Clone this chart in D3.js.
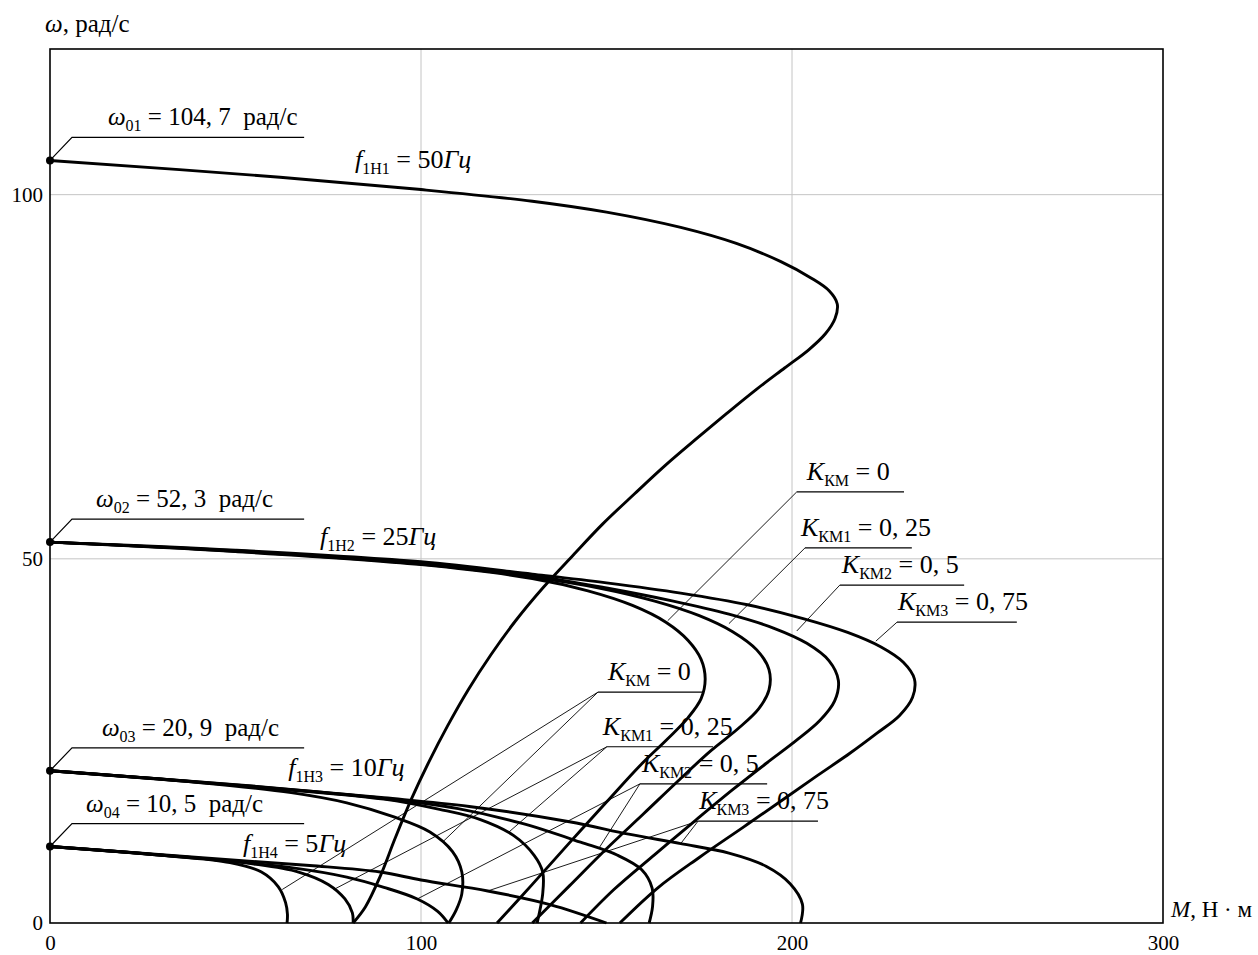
<!DOCTYPE html>
<html>
<head>
<meta charset="utf-8">
<script src="https://cdn.jsdelivr.net/npm/d3@7"></script>
<style>
body { margin: 0; background: #fff; }
text { font-family: "Liberation Serif", "Times New Roman", serif; fill: #000; white-space: pre; }
</style>
</head>
<body>
<script>
var WIDTH = 1258;
var HEIGHT = 955;
var LEFT = 50, RIGHT = 1163, TOP = 49, BOTTOM = 923;

// axis ticks
var xTicks = [0, 100, 200, 300];
var yTicks = [0, 50, 100];
var xGrid = [100, 200];
var yGrid = [50, 100];

// no-load speeds, rad/s
var omega0 = [104.7, 52.3, 20.9, 10.5];
var omega0Text = ["104, 7", "52, 3", "20, 9", "10, 5"];
var freqText = ["50", "25", "10", "5"];
var kText = ["0", "0, 25", "0, 5", "0, 75"];

// M (N*m), omega (rad/s)
var f50 = [[0,104.7],[62,102.4],[100,100.7],[130,99.1],[150,97.6],[170,95.5],[185,93.3],[197,90.8],[205,88.6],[210,86.8],[212.2,85],[211.6,83],[209,80.9],[204.5,78.7],[198,76.2],[190.5,73.3],[182.5,70],[174.5,66.6],[166,62.9],[157.5,58.9],[149,54.8],[141,50.5],[133,46.1],[125.5,41.5],[118.8,36.8],[112.7,32],[107.2,27.1],[102.1,22.1],[97.4,17],[93,11.6],[89,6.4],[85,2.2],[81.7,0]];

var f25k0 = [[0,52.3],[50,51.0],[100,49.2],[130,47.3],[145,45.6],[157,43.6],[166,41.3],[172,38.8],[175.5,36.2],[176.6,33.5],[175.5,30.8],[172,28.2],[166.5,25.3],[159,21.6],[150,16.6],[140,11],[130,5.3],[120.5,0]];
var f25k1 = [[0,52.3],[50,51.05],[100,49.3],[130,47.5],[148,46.0],[163,44.2],[175,42.2],[184,40],[190.5,37.5],[193.8,34.8],[193.8,32],[191,29.4],[185.5,26.7],[178,23.6],[169.5,19.6],[160,15],[150,10.2],[140,5.1],[130,0]];
var f25k2 = [[0,52.3],[50,51.1],[100,49.4],[130,47.7],[150,46.0],[168,44.2],[183,42.4],[195,40.5],[204,38.4],[210,36],[212.5,33.3],[211.5,30.5],[207.5,27.8],[201,25],[193,21.9],[184,18.3],[174,14.1],[163,9.4],[152,4.6],[143,0]];
var f25k3 = [[0,52.3],[50,51.2],[100,49.6],[130,47.9],[150,46.7],[170,45.3],[188,43.7],[203,41.8],[215,39.9],[224,37.9],[230,35.8],[233,33.5],[232.5,31],[229,28.5],[223,26.1],[215.6,23.3],[207,20.3],[198,17.1],[187,13.2],[175,9],[164,4.9],[153.6,0]];

var f10k0 = [[0,20.9],[40,19.3],[65,17.9],[80,16.5],[92.5,14.6],[102.4,12.5],[108.5,9.8],[111,7],[111,4],[109.5,1.8],[107.5,0]];
var f10k1 = [[0,20.9],[50,18.9],[90,17.0],[105,15.6],[116,14.2],[125,12],[130.5,9.3],[132.8,7],[132.8,4],[131.3,0]];
var f10k2 = [[0,20.9],[50,18.95],[90,17.1],[110,15.7],[127,13.7],[143,11.1],[153,9.3],[159.5,7.3],[162.3,4.8],[162.4,2.2],[161.5,0]];
var f10k3 = [[0,20.9],[50,19.0],[90,17.2],[113,16.0],[140,13.9],[156,12.2],[170,10.9],[183,9.6],[193,7.8],[199.5,5.4],[202.8,2.6],[202.3,0]];

var f5k0 = [[0,10.5],[30,9.3],[48.5,8.3],[57,7.0],[61.5,5],[63.5,2.8],[64,1.2],[63.9,0]];
var f5k1 = [[0,10.5],[35,9.1],[55,8.1],[67,7.0],[75,5.3],[79.5,3.3],[81.5,1.4],[81.7,0]];
var f5k2 = [[0,10.5],[40,8.9],[65,7.6],[80,6.3],[90,4.9],[99,3.3],[104.5,1.6],[107.3,0]];
var f5k3 = [[0,10.5],[40,9.0],[70,7.9],[89,7.0],[100,5.9],[118,4.4],[135,2.5],[150,0]];

var allCurves = [f50, f25k0, f25k1, f25k2, f25k3, f10k0, f10k1, f10k2, f10k3, f5k0, f5k1, f5k2, f5k3];

// annotation anchors (data units)
var fLabelPos = [[82.2,103.6],[72.8,51.9],[64.2,20.2],[52,9.75]];
var omegaTextM = [15.6, 12.4, 14, 9.7];
var kTextDx = [10, -4, 2, 1];
var upperK = [
  {start: [201.3,59.2], end: 230.2, targets: [[166.5,41.5]]},
  {start: [203.5,51.5], end: 232.3, targets: [[183,41.1]]},
  {start: [212.9,46.4], end: 246.4, targets: [[201.3,40.1]]},
  {start: [228.3,41.3], end: 260.6, targets: [[222.6,38.7]]}
];
var lowerK = [
  {start: [147.7,31.7], end: 176, targets: [[62.6,4.6],[106,11.2]]},
  {start: [150.1,24.2], end: 178.7, targets: [[76.5,4.6],[123.5,12.4]]},
  {start: [159,19.1], end: 193.3, targets: [[99,3.3],[148,10.3]]},
  {start: [174.7,14], end: 207, targets: [[118,4.4],[170,10.9]]}
];

var xScale = d3.scaleLinear().domain([0, 300]).range([LEFT, RIGHT]);
var yScale = d3.scaleLinear().domain([0, 120]).range([BOTTOM, TOP]);

var translate = function (x, y) {
  return "translate(" + x + "," + y + ")";
};

var mathText = function (g, x, y, parts, size) {
  var t = g.append('text').attr('x', x).attr('y', y).style('font-size', size + 'px');
  var shift = 0;
  parts.forEach(function (p) {
    var s = t.append('tspan').text(p[0]);
    if (p[1] == 'sub') {
      s.style('font-size', Math.round(size * 0.62) + 'px').attr('dy', 6 - shift);
      shift = 6;
    } else {
      if (shift) { s.attr('dy', -shift); shift = 0; }
      if (p[1] == 'i') s.style('font-style', 'italic');
    }
  });
  return t;
};

var svg = d3.select('body').append('svg')
  .attr('width', WIDTH)
  .attr('height', HEIGHT);

svg.append('rect').attr('width', WIDTH).attr('height', HEIGHT).attr('fill', '#fff');

// grid
svg.append('g').selectAll('line').data(xGrid).enter().append('line')
  .attr('x1', function (d) { return xScale(d); })
  .attr('x2', function (d) { return xScale(d); })
  .attr('y1', yScale(0)).attr('y2', yScale(120))
  .attr('stroke', '#c4c4c4').attr('stroke-width', 1);
svg.append('g').selectAll('line').data(yGrid).enter().append('line')
  .attr('y1', function (d) { return yScale(d); })
  .attr('y2', function (d) { return yScale(d); })
  .attr('x1', xScale(0)).attr('x2', xScale(300))
  .attr('stroke', '#c4c4c4').attr('stroke-width', 1);

// axes
var xAxis = d3.axisBottom(xScale).tickValues(xTicks).tickSize(0).tickPadding(12);
var yAxis = d3.axisLeft(yScale).tickValues(yTicks).tickSize(0).tickPadding(7);

var gx = svg.append('g').attr('transform', translate(0, BOTTOM)).call(xAxis);
var gy = svg.append('g').attr('transform', translate(LEFT, 0)).call(yAxis);
[gx, gy].forEach(function (g) {
  g.select('.domain').remove();
  g.selectAll('text')
    .style('font-family', '"Liberation Serif", serif')
    .style('font-size', '21px')
    .attr('fill', '#14143c');
});

svg.append('rect')
  .attr('x', xScale(0)).attr('y', yScale(120))
  .attr('width', xScale(300) - xScale(0))
  .attr('height', yScale(0) - yScale(120))
  .attr('fill', 'none').attr('stroke', '#000').attr('stroke-width', 1.6);

// axis titles
mathText(svg, 45, 32, [['ω', 'i'], [', рад/с', 'n']], 25);
mathText(svg, RIGHT + 8, BOTTOM - 6, [['M', 'i'], [', Н · м', 'n']], 23);

// curves
var line = d3.line()
  .curve(d3.curveCatmullRom.alpha(0.5))
  .x(function (d) { return xScale(d[0]); })
  .y(function (d) { return yScale(d[1]); });

svg.append('g').selectAll('path')
  .data(allCurves)
  .enter()
  .append('path')
  .attr('d', line)
  .attr('fill', 'none')
  .attr('stroke', '#000')
  .attr('stroke-width', 2.9)
  .attr('stroke-linejoin', 'round');

// omega0 labels
var ann = svg.append('g');
omega0.forEach(function (w, i) {
  var px = xScale(0), py = yScale(w);
  ann.append('path')
    .attr('d', 'M' + px + ',' + py + 'L' + (px + 22) + ',' + (py - 23) + 'L' + xScale(68.5) + ',' + (py - 23))
    .attr('fill', 'none').attr('stroke', '#000').attr('stroke-width', 1.2);
  ann.append('circle').attr('cx', px).attr('cy', py).attr('r', 4).attr('fill', '#000');
  mathText(ann, xScale(omegaTextM[i]), py - 35,
    [['ω', 'i'], ['0' + (i + 1), 'sub'], [' = ' + omega0Text[i] + '  рад/с', 'n']], 25);
  mathText(ann, xScale(fLabelPos[i][0]), yScale(fLabelPos[i][1]),
    [['f', 'i'], ['1Н' + (i + 1), 'sub'], [' = ' + freqText[i], 'n'], ['Гц', 'i']], 26);
});

// K labels
var drawK = function (list) {
  list.forEach(function (k, i) {
    var sx = xScale(k.start[0]), sy = yScale(k.start[1]);
    ann.append('line')
      .attr('x1', sx).attr('y1', sy).attr('x2', xScale(k.end)).attr('y2', sy)
      .attr('stroke', '#000').attr('stroke-width', 1.2);
    k.targets.forEach(function (t) {
      ann.append('line')
        .attr('x1', sx).attr('y1', sy)
        .attr('x2', xScale(t[0])).attr('y2', yScale(t[1]))
        .attr('stroke', '#000').attr('stroke-width', 0.9);
    });
    mathText(ann, sx + kTextDx[i], sy - 12,
      [['K', 'i'], ['КМ' + (i ? i : ''), 'sub'], [' = ' + kText[i], 'n']], 26);
  });
};
drawK(upperK);
drawK(lowerK);
</script>
</body>
</html>
